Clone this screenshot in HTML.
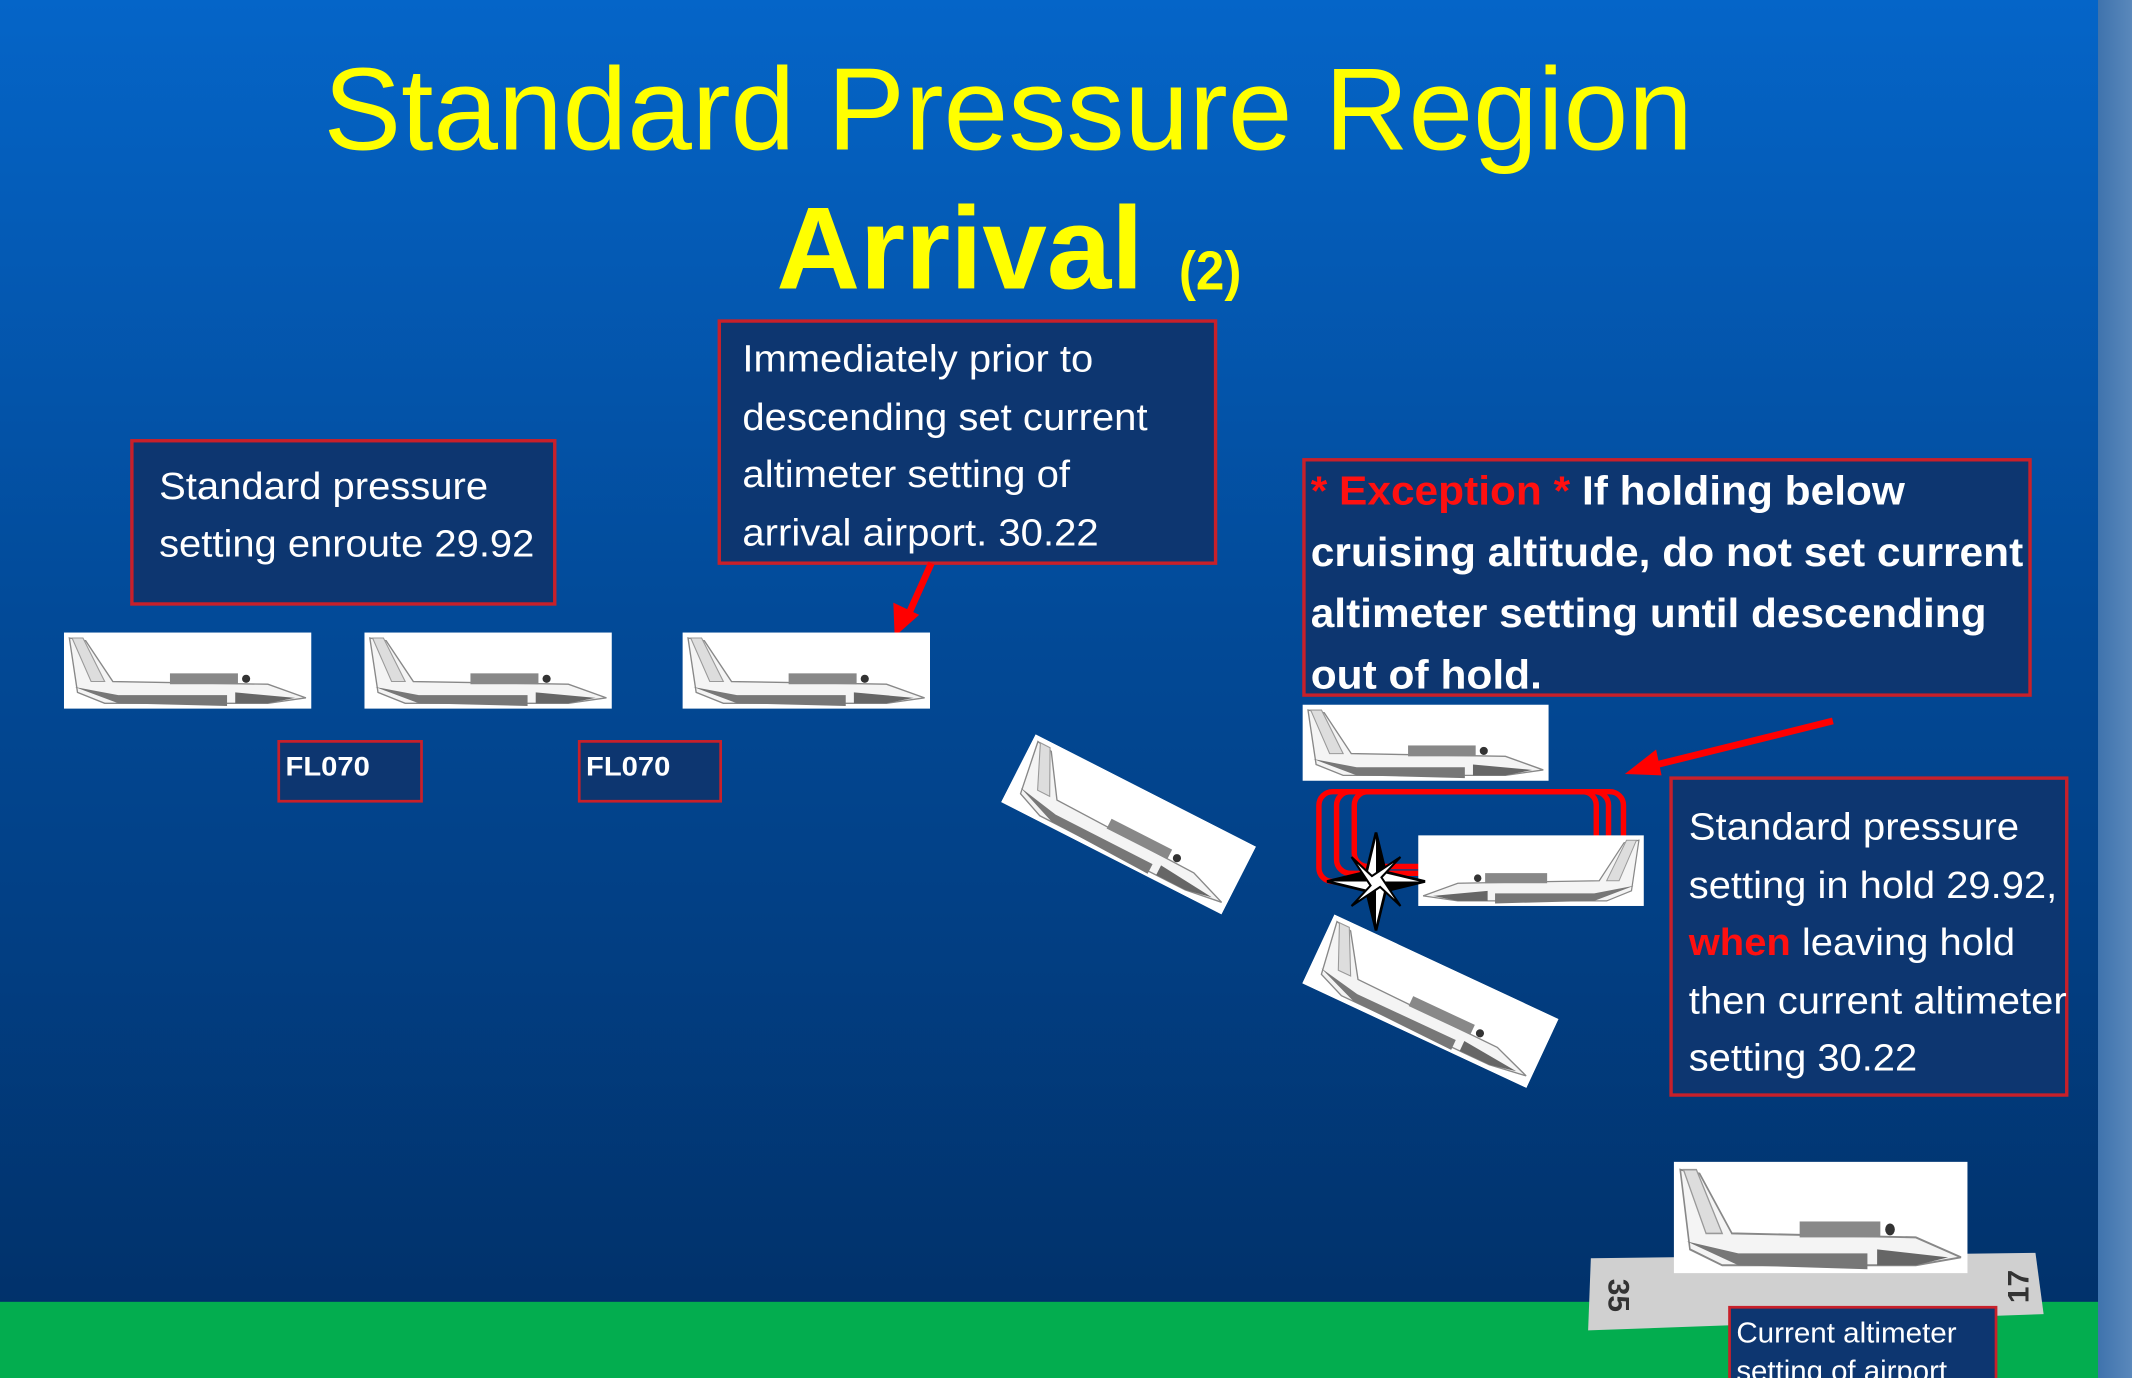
<!DOCTYPE html>
<html><head><meta charset="utf-8"><style>
html,body{margin:0;padding:0;background:#0a3a78;}
svg{display:block;}
text{font-family:"Liberation Sans",sans-serif;}
</style></head><body>
<svg width="2132" height="1378" viewBox="0 0 1568 1013" preserveAspectRatio="none">
<defs>
<linearGradient id="bg" x1="0" y1="0" x2="0" y2="1">
<stop offset="0" stop-color="#0565c8"/><stop offset="0.45" stop-color="#024a98"/><stop offset="1" stop-color="#012f66"/>
</linearGradient>
<linearGradient id="side" x1="0" y1="0" x2="1" y2="0">
<stop offset="0" stop-color="#3f73ad"/><stop offset="1" stop-color="#5a88bb"/>
</linearGradient>
<symbol id="plane" viewBox="0 0 182 56" preserveAspectRatio="none">
<rect width="182" height="56" fill="#fff"/>
<path d="M4 4 L16 6 L36 36 L150 38 L178 48 L150 52 L30 52 L10 44 Z" fill="#f4f4f4" stroke="#888" stroke-width="1"/>
<path d="M8 40 L40 52 L120 54 L120 46 L40 46 Z" fill="#777"/>
<path d="M126 44 L170 48 L150 52 L126 52 Z" fill="#666"/>
<rect x="78" y="30" width="50" height="8" fill="#888"/>
<circle cx="134" cy="34" r="3" fill="#333"/>
<path d="M6 4 L14 4 L30 36 L20 36 Z" fill="#ddd" stroke="#999" stroke-width="0.8"/>
</symbol>
</defs>
<rect width="1568" height="1013" fill="url(#bg)"/>
<rect x="0" y="957" width="1545" height="56" fill="#03ad4f"/>
<rect x="1543" y="0" width="25" height="1013" fill="url(#side)"/>

<text x="238" y="110" font-size="86" fill="#ffff00" textLength="1007" lengthAdjust="spacingAndGlyphs">Standard Pressure Region</text>
<text x="571" y="212" font-size="86" font-weight="bold" fill="#ffff00" textLength="270" lengthAdjust="spacingAndGlyphs">Arrival</text>
<text x="867" y="213" font-size="40" font-weight="bold" fill="#ffff00" textLength="46" lengthAdjust="spacingAndGlyphs">(2)</text>

<g>
<rect x="97" y="324" width="311" height="120" fill="#0d3670" stroke="#c8202a" stroke-width="2.5"/>
<text x="117" y="367" font-size="28" fill="#fff" textLength="242" lengthAdjust="spacingAndGlyphs">Standard pressure</text>
<text x="117" y="409" font-size="28" fill="#fff" textLength="276" lengthAdjust="spacingAndGlyphs">setting enroute 29.92</text>
</g>

<g>
<rect x="529" y="236" width="365" height="178" fill="#0d3670" stroke="#c8202a" stroke-width="2.5"/>
<text x="546" y="273" font-size="28" fill="#fff" textLength="258" lengthAdjust="spacingAndGlyphs">Immediately prior to</text>
<text x="546" y="316" font-size="28" fill="#fff" textLength="298" lengthAdjust="spacingAndGlyphs">descending set current</text>
<text x="546" y="358" font-size="28" fill="#fff" textLength="241" lengthAdjust="spacingAndGlyphs">altimeter setting of</text>
<text x="546" y="401" font-size="28" fill="#fff" textLength="262" lengthAdjust="spacingAndGlyphs">arrival airport. 30.22</text>
</g>
<g>
<line x1="685" y1="414" x2="668" y2="452" stroke="#f00" stroke-width="5"/>
<path d="M658 468 L657 443 L676 452 Z" fill="#f00"/>
</g>

<g>
<rect x="959" y="338" width="534" height="173" fill="#0d3670" stroke="#c8202a" stroke-width="2.5"/>
<text x="964" y="371" font-size="30" font-weight="bold" fill="#fff" textLength="437" lengthAdjust="spacingAndGlyphs"><tspan fill="#ff1010">* Exception *</tspan> If holding below</text>
<text x="964" y="416" font-size="30" font-weight="bold" fill="#fff" textLength="524" lengthAdjust="spacingAndGlyphs">cruising altitude, do not set current</text>
<text x="964" y="461" font-size="30" font-weight="bold" fill="#fff" textLength="497" lengthAdjust="spacingAndGlyphs">altimeter setting until descending</text>
<text x="964" y="506" font-size="30" font-weight="bold" fill="#fff" textLength="170" lengthAdjust="spacingAndGlyphs">out of hold.</text>
</g>

<use href="#plane" x="47" y="465" width="182" height="56"/>
<use href="#plane" x="268" y="465" width="182" height="56"/>
<use href="#plane" x="502" y="465" width="182" height="56"/>

<g>
<rect x="205" y="545" width="105" height="44" fill="#0d3670" stroke="#c8202a" stroke-width="2"/>
<text x="210" y="570" font-size="20" font-weight="bold" fill="#fff" textLength="62" lengthAdjust="spacingAndGlyphs">FL070</text>
</g>
<g>
<rect x="426" y="545" width="104" height="44" fill="#0d3670" stroke="#c8202a" stroke-width="2"/>
<text x="431" y="570" font-size="20" font-weight="bold" fill="#fff" textLength="62" lengthAdjust="spacingAndGlyphs">FL070</text>
</g>

<use href="#plane" x="0" y="0" width="182" height="56" transform="translate(830 606) rotate(27) translate(-91 -28)"/>

<use href="#plane" x="958" y="518" width="181" height="56"/>

<g fill="none" stroke="#f00" stroke-width="4">
<rect x="970" y="582" width="224" height="66" rx="10"/>
<rect x="983" y="582" width="200" height="60" rx="10"/>
<rect x="996" y="582" width="178" height="55" rx="10"/>
</g>
<g transform="scale(-1 1)">
<use href="#plane" x="-1209" y="614" width="166" height="52"/>
</g>
<g transform="translate(1012 648)">
<path d="M0 -36 L7 -7 L36 0 L7 7 L0 36 L-7 7 L-36 0 L-7 -7 Z" fill="#fff" stroke="#000" stroke-width="2"/>
<path d="M0 -36 L7 -7 L0 0 Z M36 0 L7 7 L0 0 Z M0 36 L-7 7 L0 0 Z M-36 0 L-7 -7 L0 0 Z" fill="#000"/>
<path d="M-18 -18 L-3 -4 L18 -18 L4 -3 L18 18 L3 4 L-18 18 L-4 3 Z" fill="#fff" stroke="#000" stroke-width="1.5"/>
</g>
<use href="#plane" x="0" y="0" width="182" height="56" transform="translate(1052 736) rotate(25) translate(-91 -28)"/>

<g>
<line x1="1348" y1="530" x2="1215" y2="563" stroke="#f00" stroke-width="5"/>
<path d="M1195 569 L1218 551 L1222 570 Z" fill="#f00"/>
</g>

<g>
<rect x="1229" y="572" width="291" height="233" fill="#0d3670" stroke="#c8202a" stroke-width="2.5"/>
<text x="1242" y="617" font-size="28" fill="#fff" textLength="243" lengthAdjust="spacingAndGlyphs">Standard pressure</text>
<text x="1242" y="660" font-size="28" fill="#fff" textLength="271" lengthAdjust="spacingAndGlyphs">setting in hold 29.92,</text>
<text x="1242" y="702" font-size="28" fill="#fff" textLength="240" lengthAdjust="spacingAndGlyphs"><tspan fill="#ff1010" font-weight="bold">when</tspan> leaving hold</text>
<text x="1242" y="745" font-size="28" fill="#fff" textLength="278" lengthAdjust="spacingAndGlyphs">then current altimeter</text>
<text x="1242" y="787" font-size="28" fill="#fff" textLength="168" lengthAdjust="spacingAndGlyphs">setting 30.22</text>
</g>

<g>
<path d="M1170 925 L1497 921 L1503 966 L1168 978 Z" fill="#d0d0d0"/>
<text transform="translate(1183 940) rotate(90)" font-size="22" font-weight="bold" fill="#333">35</text>
<text transform="translate(1492 958) rotate(-90)" font-size="22" font-weight="bold" fill="#333">17</text>
</g>
<use href="#plane" x="1231" y="854" width="216" height="82"/>

<g>
<rect x="1272" y="961" width="196" height="60" fill="#0d3670" stroke="#c8202a" stroke-width="2"/>
<text x="1277" y="987" font-size="21" fill="#fff" textLength="162" lengthAdjust="spacingAndGlyphs">Current altimeter</text>
<text x="1277" y="1015" font-size="21" fill="#fff" textLength="155" lengthAdjust="spacingAndGlyphs">setting of airport</text>
</g>
</svg>
</body></html>
